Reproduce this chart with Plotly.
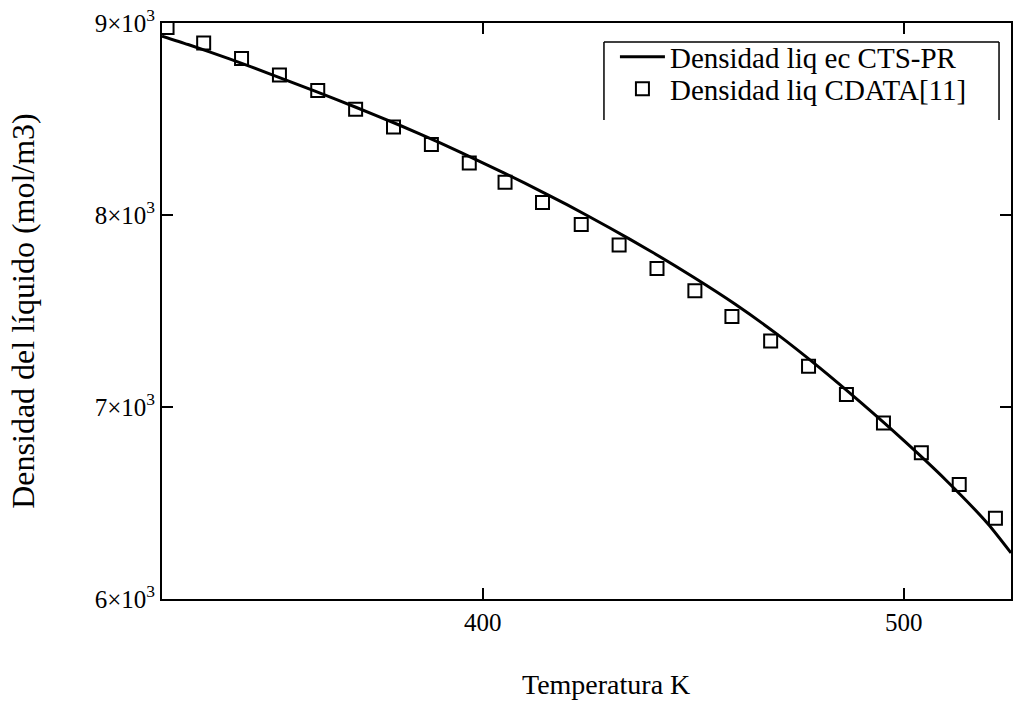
import plotly.graph_objects as go

# Model curve (CTS-PR)
T_line = [323.8, 330, 340, 350, 360, 370, 380, 390, 400, 410, 420, 430, 440,
          450, 460, 470, 480, 490, 500, 510, 520, 525.5]
rho_line = [8932, 8888, 8812, 8730, 8646, 8560, 8470, 8374, 8272, 8166, 8054,
            7935, 7810, 7677, 7535, 7378, 7205, 7020, 6826, 6620, 6392, 6240]

# Data points (CDATA)
T_data = [325.0, 333.7, 342.7, 351.7, 360.8, 369.8, 378.8, 387.8, 396.8, 405.3,
          414.2, 423.4, 432.4, 441.4, 450.4, 459.2, 468.4, 477.4, 486.4, 495.2,
          504.2, 513.2, 521.8]
rho_data = [8976, 8896, 8815, 8729, 8648, 8551, 8458, 8367, 8271, 8170, 8065,
            7950, 7844, 7721, 7606, 7471, 7344, 7212, 7065, 6917, 6762, 6596, 6420]

x_ticks = [400, 500]
y_ticks = [6000, 7000, 8000, 9000]
y_ticktext = ["6×10<sup>3</sup>", "7×10<sup>3</sup>", "8×10<sup>3</sup>", "9×10<sup>3</sup>"]

FONT = "Liberation Serif, Times New Roman, serif"

fig = go.Figure()
fig.add_trace(go.Scatter(x=T_line, y=rho_line, mode="lines",
                         name="Densidad liq ec CTS-PR", legend="legend",
                         line=dict(color="black", width=3, shape="spline", smoothing=0.6)))
fig.add_trace(go.Scatter(x=T_data, y=rho_data, mode="markers",
                         name="Densidad liq CDATA[11]", legend="legend2",
                         marker=dict(symbol="square-open", size=13, color="black",
                                     line=dict(width=2, color="black"))))

W, H = 1013, 702
L, R, T, B = 162, 0, 23, 103
pw, ph = W - L - R, H - T - B

def px(x):
    return (x - L) / pw

def py(y):
    return 1 - (y - T) / ph

leg_common = dict(xanchor="left", yanchor="middle", bgcolor="rgba(0,0,0,0)",
                  borderwidth=0, itemwidth=45, font=dict(size=29, family=FONT))

fig.update_layout(
    width=W, height=H,
    margin=dict(l=L, r=R, t=T, b=B, pad=0),
    paper_bgcolor="white", plot_bgcolor="white",
    font=dict(family=FONT, color="black"),
    showlegend=True,
    legend=dict(x=px(616), y=py(57), **leg_common),
    legend2=dict(x=px(616), y=py(89), **leg_common),
    xaxis=dict(range=[323.8, 525.5], tickvals=x_ticks, ticktext=[str(v) for v in x_ticks],
               ticks="inside", ticklen=11, tickwidth=1.5, tickcolor="black",
               showline=True, linewidth=2, linecolor="black", mirror="ticks",
               showgrid=False, zeroline=False,
               tickfont=dict(size=25, family=FONT)),
    yaxis=dict(range=[6000, 9000], tickvals=y_ticks, ticktext=y_ticktext,
               ticks="inside", ticklen=11, tickwidth=1.5, tickcolor="black",
               showline=True, linewidth=2, linecolor="black", mirror="ticks",
               showgrid=False, zeroline=False,
               tickfont=dict(size=25, family=FONT),
               title=dict(text="Densidad del líquido (mol/m3)", font=dict(size=32, family=FONT), standoff=50)),
    annotations=[
        dict(text="Temperatura K", xref="paper", yref="paper", x=px(607), y=py(684),
             xanchor="center", yanchor="middle", showarrow=False,
             font=dict(size=28, family=FONT)),
    ],
    shapes=[
        dict(type="line", xref="paper", yref="paper", x0=px(605), x1=px(1001), y0=py(42), y1=py(42),
             line=dict(color="black", width=1.5)),
        dict(type="line", xref="paper", yref="paper", x0=px(605), x1=px(605), y0=py(42), y1=py(120),
             line=dict(color="black", width=1.5)),
        dict(type="line", xref="paper", yref="paper", x0=px(1001), x1=px(1001), y0=py(42), y1=py(120),
             line=dict(color="black", width=1.5)),
    ],
)

fig.write_html("out.html")
